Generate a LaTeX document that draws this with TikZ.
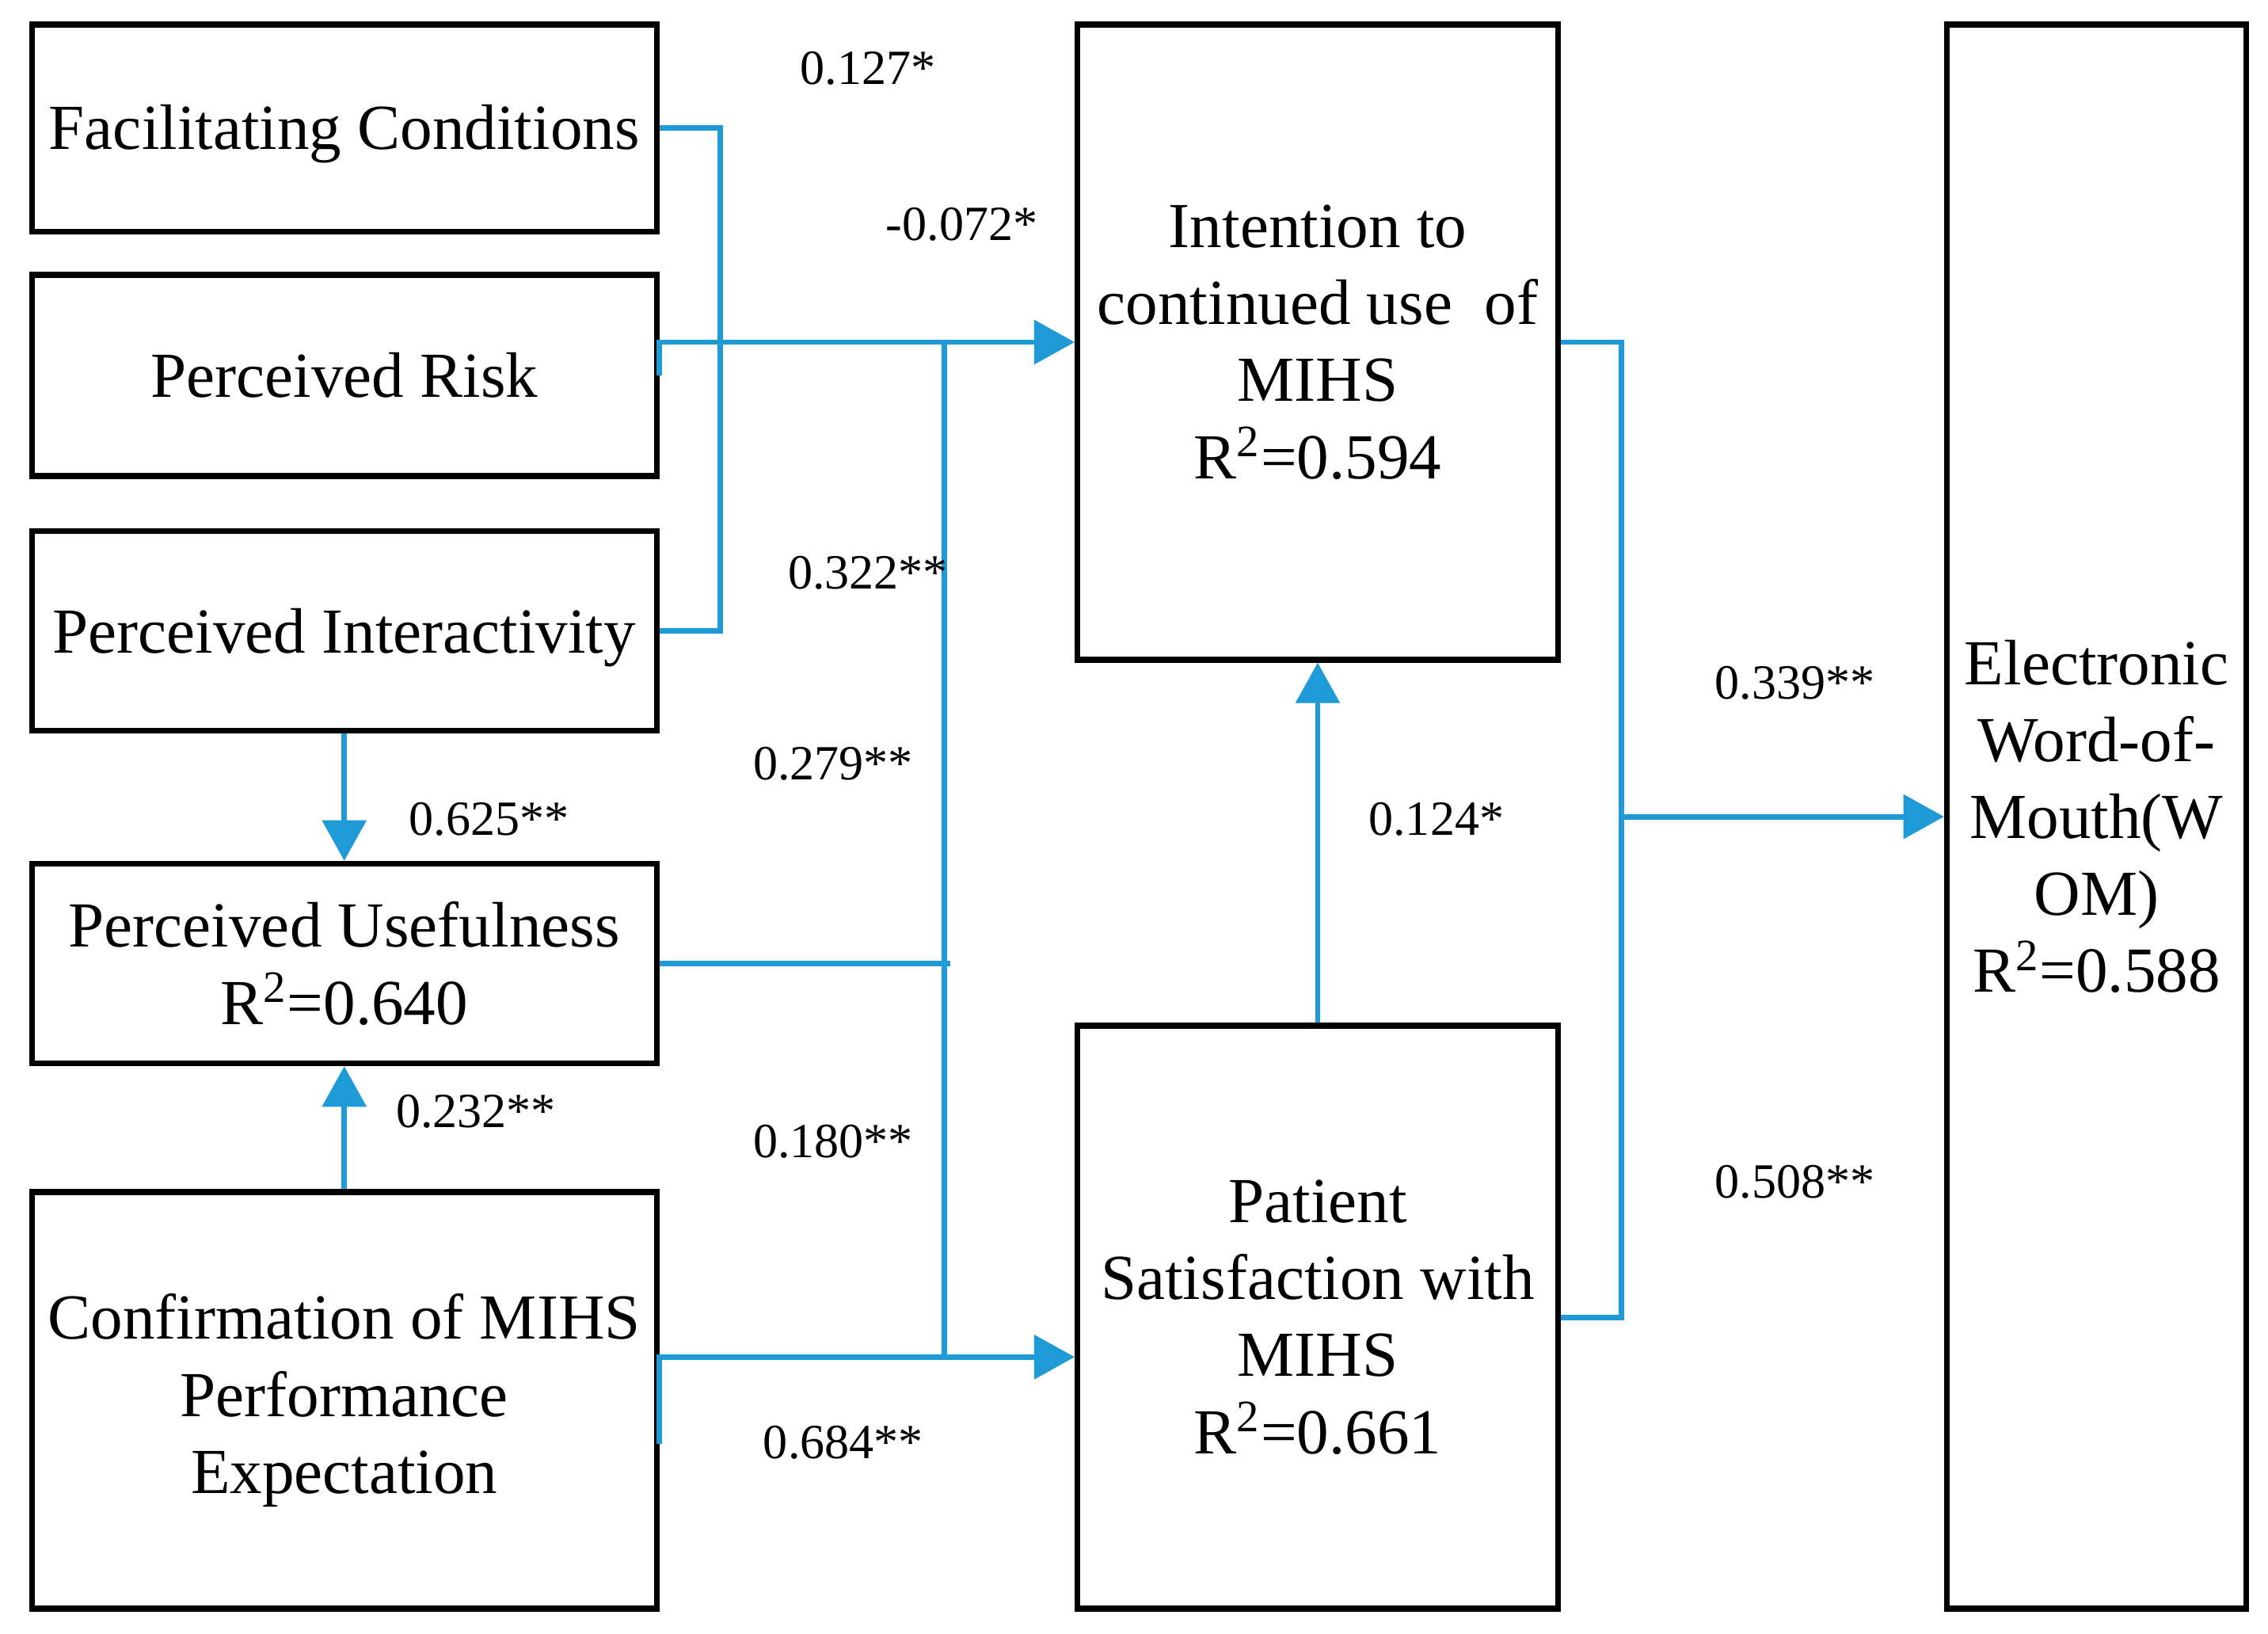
\documentclass[tikz,border=0pt]{standalone}
\usepackage{fontspec}
\setmainfont{Liberation Serif}
\usetikzlibrary{arrows.meta}
\definecolor{pathblue}{RGB}{30,155,215}
\begin{document}
\begin{tikzpicture}[x=0.5pt,y=-0.5pt,
  box/.style={draw=black,line width=2pt,rectangle,align=center,inner sep=0pt,
    font=\fontsize{22.2}{26.6}\selectfont},
  conn/.style={draw=pathblue,line width=1.9pt},
  arr/.style={conn,-{Triangle[length=14pt,width=15pt]}},
  lbl/.style={font=\fontsize{17}{20}\selectfont,inner sep=0pt}]
\useasboundingbox (0,0) rectangle (1568,1129);
\fill[white] (0,0) rectangle (1568,1129);
% boxes
\node[box,minimum width=216pt,minimum height=71.5pt] (FC) at (238,88.5) {\raisebox{-2pt}[\height][\depth]{Facilitating Conditions}};
\node[box,minimum width=216pt,minimum height=69.5pt] (PR) at (238,259.5) {Perceived Risk};
\node[box,minimum width=216pt,minimum height=69pt] (PI) at (238,436) {\raisebox{-2.5pt}[\height][\depth]{Perceived Interactivity}};
\node[box,minimum width=216pt,minimum height=69pt] (PU) at (238,666) {Perceived Usefulness\\R\textsuperscript{2}=0.640};
\node[box,minimum width=216pt,minimum height=144pt] (CM) at (238,968) {Confirmation of MIHS\\Performance\\Expectation};
\node[box,minimum width=166pt,minimum height=219.5pt] (ITU) at (911,236.5) {Intention to\\continued use\ \ of\\MIHS\\R\textsuperscript{2}=0.594};
\node[box,minimum width=166pt,minimum height=201.5pt] (PS) at (911,910.5) {Patient\\Satisfaction with\\MIHS\\R\textsuperscript{2}=0.661};
\node[box,minimum width=103.5pt,minimum height=547.5pt] (EW) at (1449.5,564.5) {Electronic\\Word-of-\\Mouth(W\\OM)\\R\textsuperscript{2}=0.588};
% junction coordinates
\coordinate (jtop) at (653,236.5);
\coordinate (jbot) at (653,938);
\coordinate (jpu) at (657,666);
\coordinate (jew) at (1119,564.5);
% connectors
\draw[conn] (FC.east) -- ++(42,0) |- (PI.east);
\draw[arr] (PR.east) |- (ITU.west);
\draw[arr] ([yshift=-15pt]CM.east) |- ([yshift=-13.75pt]PS.west);
\draw[conn] (jtop) -- (jbot);
\draw[conn] (PU.east) -- (jpu);
\draw[arr] (PS.north) -- (ITU.south);
\draw[conn] (ITU.east) -- ++(42,0) |- (PS.east);
\draw[arr] (jew) -- (EW.west);
\draw[arr] (PI.south) -- (PU.north);
\draw[arr] (CM.north) -- (PU.south);
% labels
\node[lbl] (l1) at (600,47) {0.127*};
\node[lbl] (l2) at (665,155) {-0.072*};
\node[lbl] (l3) at (600,396) {0.322**};
\node[lbl] (l4) at (576,528) {0.279**};
\node[lbl] (l5) at (338,566) {0.625**};
\node[lbl] (l6) at (329,768) {0.232**};
\node[lbl] (l7) at (576,789) {0.180**};
\node[lbl] (l8) at (583,997) {0.684**};
\node[lbl] (l9) at (993,566) {0.124*};
\node[lbl] (l10) at (1241,472) {0.339**};
\node[lbl] (l11) at (1241,817) {0.508**};
\end{tikzpicture}
\end{document}
